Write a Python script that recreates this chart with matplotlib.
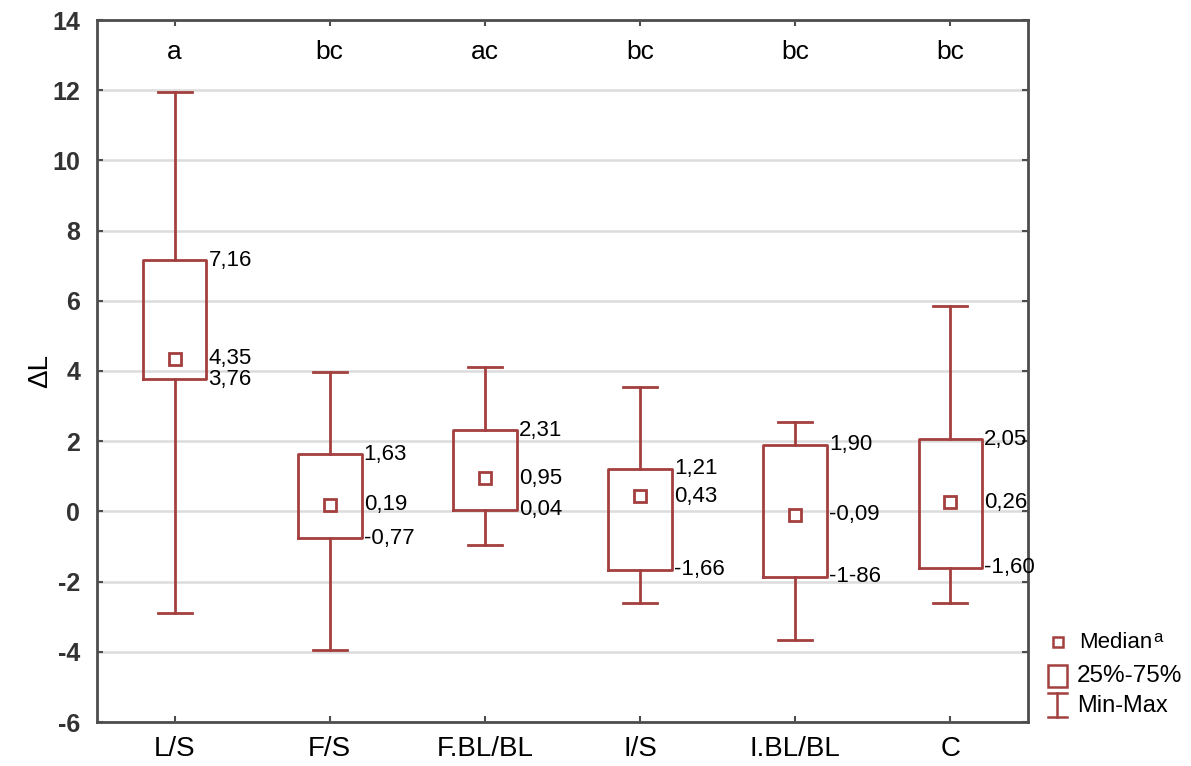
import matplotlib.pyplot as plt
from matplotlib.patches import Rectangle

plt.rcParams['font.family'] = ['Liberation Sans', 'DejaVu Sans']
plt.rcParams['axes.unicode_minus'] = False

groups = ["L/S", "F/S", "F.BL/BL", "I/S", "I.BL/BL", "C"]
mins = [-2.9, -3.95, -0.97, -2.6, -3.65, -2.6]
q1 = [3.76, -0.77, 0.04, -1.66, -1.86, -1.60]
medians = [4.35, 0.19, 0.95, 0.43, -0.09, 0.26]
q3 = [7.16, 1.63, 2.31, 1.21, 1.90, 2.05]
maxs = [11.95, 3.98, 4.1, 3.55, 2.55, 5.85]
letters = ["a", "bc", "ac", "bc", "bc", "bc"]
q3_labels = ["7,16", "1,63", "2,31", "1,21", "1,90", "2,05"]
med_labels = ["4,35", "0,19", "0,95", "0,43", "-0,09", "0,26"]
q1_labels = ["3,76", "-0,77", "0,04", "-1,66", "-1-86", "-1,60"]

RED = "#a3403f"
FRAME = "#4d4d4d"

fig = plt.figure(figsize=(11.91, 7.66), dpi=100)
ax = fig.add_axes((97 / 1191, 44 / 766, 931 / 1191, 702 / 766))

pos = list(range(1, len(groups) + 1))
stats = []
for g, lo, a, m, b, hi in zip(groups, mins, q1, medians, q3, maxs):
    stats.append(dict(label=g, whislo=lo, q1=a, med=m, q3=b, whishi=hi, fliers=[]))

line = dict(color=RED, linewidth=2.0)
ax.bxp(stats, positions=pos, widths=0.41, capwidths=0.22,
       boxprops=line, whiskerprops=line, capprops=line,
       medianprops=dict(linestyle="none"), showfliers=False, zorder=3)
ax.plot(pos, medians, linestyle="none", marker="s", markersize=8.5,
        markerfacecolor="white", markeredgecolor=RED, markeredgewidth=2.0, zorder=4)

for vals, labels in ((q3, q3_labels), (medians, med_labels), (q1, q1_labels)):
    for x, v, s in zip(pos, vals, labels):
        ax.annotate(s, (x + 0.205, v), xytext=(1.5, 0), textcoords="offset points",
                    ha="left", va="center", fontsize=16, zorder=5)

for x, s in zip(pos, letters):
    ax.text(x, 13.1, s, ha="center", va="center", fontsize=19)

ax.set_xlim(0.5, 6.5)
ax.set_ylim(-6, 14)
ax.set_yticks(range(-6, 15, 2))
ax.set_xticks(pos)
ax.set_xticklabels(groups, fontsize=20)
for lbl in ax.get_yticklabels():
    lbl.set_fontsize(18)
    lbl.set_fontweight("bold")
    lbl.set_color("#333333")
ax.set_ylabel("ΔL", fontsize=20)
ax.yaxis.label.set_va("center")
ax.yaxis.set_label_coords(-0.061, 0.5)
ax.yaxis.grid(True, color="#dcdcdc", linewidth=1.8, zorder=0)
ax.set_axisbelow(True)
ax.tick_params(direction="in", length=4, width=1.5, color=FRAME,
               top=True, right=True)
ax.tick_params(axis="y", pad=12)
ax.tick_params(axis="x", pad=10)
for sp in ax.spines.values():
    sp.set_color(FRAME)
    sp.set_linewidth(2.0)

# legend drawn in pixel coordinates
lax = fig.add_axes((0, 0, 1, 1), zorder=-1)
lax.set_xlim(0, 1191)
lax.set_ylim(766, 0)
lax.axis("off")
lax.plot([1058], [642], marker="s", markersize=7, markerfacecolor="white",
         markeredgecolor=RED, markeredgewidth=1.8)
lax.text(1079, 643, "Median", fontsize=16, va="center", ha="left")
lax.text(1153, 637, "a", fontsize=12, va="center", ha="left")
lax.add_patch(Rectangle((1048, 665), 19, 22, fill=False, edgecolor=RED, linewidth=1.8))
lax.text(1077, 676, "25%-75%", fontsize=17.5, va="center", ha="left")
lax.plot([1057, 1057], [693, 717], color=RED, linewidth=1.8)
lax.plot([1048, 1067], [693, 693], color=RED, linewidth=1.8)
lax.plot([1048, 1067], [717, 717], color=RED, linewidth=1.8)
lax.text(1077, 706, "Min-Max", fontsize=17, va="center", ha="left")

fig.savefig("out.png", dpi=100)
